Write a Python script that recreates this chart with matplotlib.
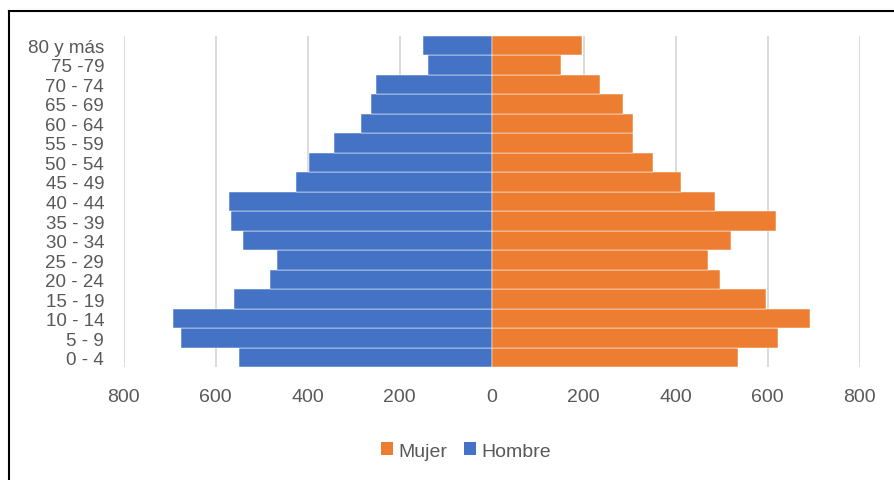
import matplotlib
matplotlib.use("Agg")
import matplotlib.pyplot as plt
from matplotlib.patches import Patch
from matplotlib.lines import Line2D

plt.rcParams['font.family'] = ['Liberation Sans Narrow', 'Liberation Sans', 'DejaVu Sans']

# ── datos (de abajo hacia arriba) ─────────────────────────────
grupos = ["0 - 4", "5 - 9", "10 - 14", "15 - 19", "20 - 24", "25 - 29",
          "30 - 34", "35 - 39", "40 - 44", "45 - 49", "50 - 54", "55 - 59",
          "60 - 64", "65 - 69", "70 - 74", "75 -79", "80 y más"]
hombre = [550, 674, 692, 559, 482, 466, 541, 567, 570, 425, 396, 343,
          283, 263, 252, 138, 148]
mujer = [536, 622, 693, 597, 496, 471, 520, 619, 486, 411, 351, 307,
         307, 286, 235, 151, 197]
ticks = [-800, -600, -400, -200, 0, 200, 400, 600, 800]

azul = "#4472C4"
naranja = "#ED7D31"
gris_txt = "#595959"

fig = plt.figure(figsize=(8.94, 4.81), dpi=100)
ax = fig.add_axes([123.5 / 894, 1 - 368.3 / 481, 736 / 894, 331.6 / 481])

y = range(len(grupos))
ax.barh(y, [-v for v in hombre], height=1.0, color=azul,
        edgecolor="white", linewidth=0.35, zorder=2)
ax.barh(y, mujer, height=1.0, color=naranja,
        edgecolor="white", linewidth=0.35, zorder=2)

ax.set_xlim(-800, 800)
ax.set_ylim(-0.5, len(grupos) - 0.5)
ax.set_xticks(ticks)
ax.set_xticklabels([str(abs(t)) for t in ticks])
ax.set_yticks(list(y))
ax.set_yticklabels(grupos)
ax.tick_params(axis="x", length=0, pad=15, labelsize=14, labelcolor=gris_txt)
ax.tick_params(axis="y", length=0, pad=14, labelsize=13.5, labelcolor=gris_txt)
ax.grid(axis="x", color="#D9D9D9", linewidth=1.3, zorder=0)
ax.set_axisbelow(True)
for s in ax.spines.values():
    s.set_visible(False)

# leyenda
handles = [Patch(facecolor=naranja, label="Mujer"),
           Patch(facecolor=azul, label="Hombre")]
leg = fig.legend(handles=handles, loc="center", ncol=2,
                 bbox_to_anchor=(466 / 894, 1 - 452 / 481), frameon=False,
                 fontsize=14, handlelength=0.6, handleheight=0.6,
                 handletextpad=0.25, columnspacing=0.9)
for t in leg.get_texts():
    t.set_color(gris_txt)

# marco recortado (arriba e izquierda)
fig.add_artist(Line2D([9 / 894, 1], [1 - 12 / 481, 1 - 12 / 481],
                      transform=fig.transFigure, color="black", linewidth=1.5))
fig.add_artist(Line2D([9 / 894, 9 / 894], [0, 1 - 12 / 481],
                      transform=fig.transFigure, color="black", linewidth=1.5))

fig.savefig("out.png", dpi=100, facecolor="white")
